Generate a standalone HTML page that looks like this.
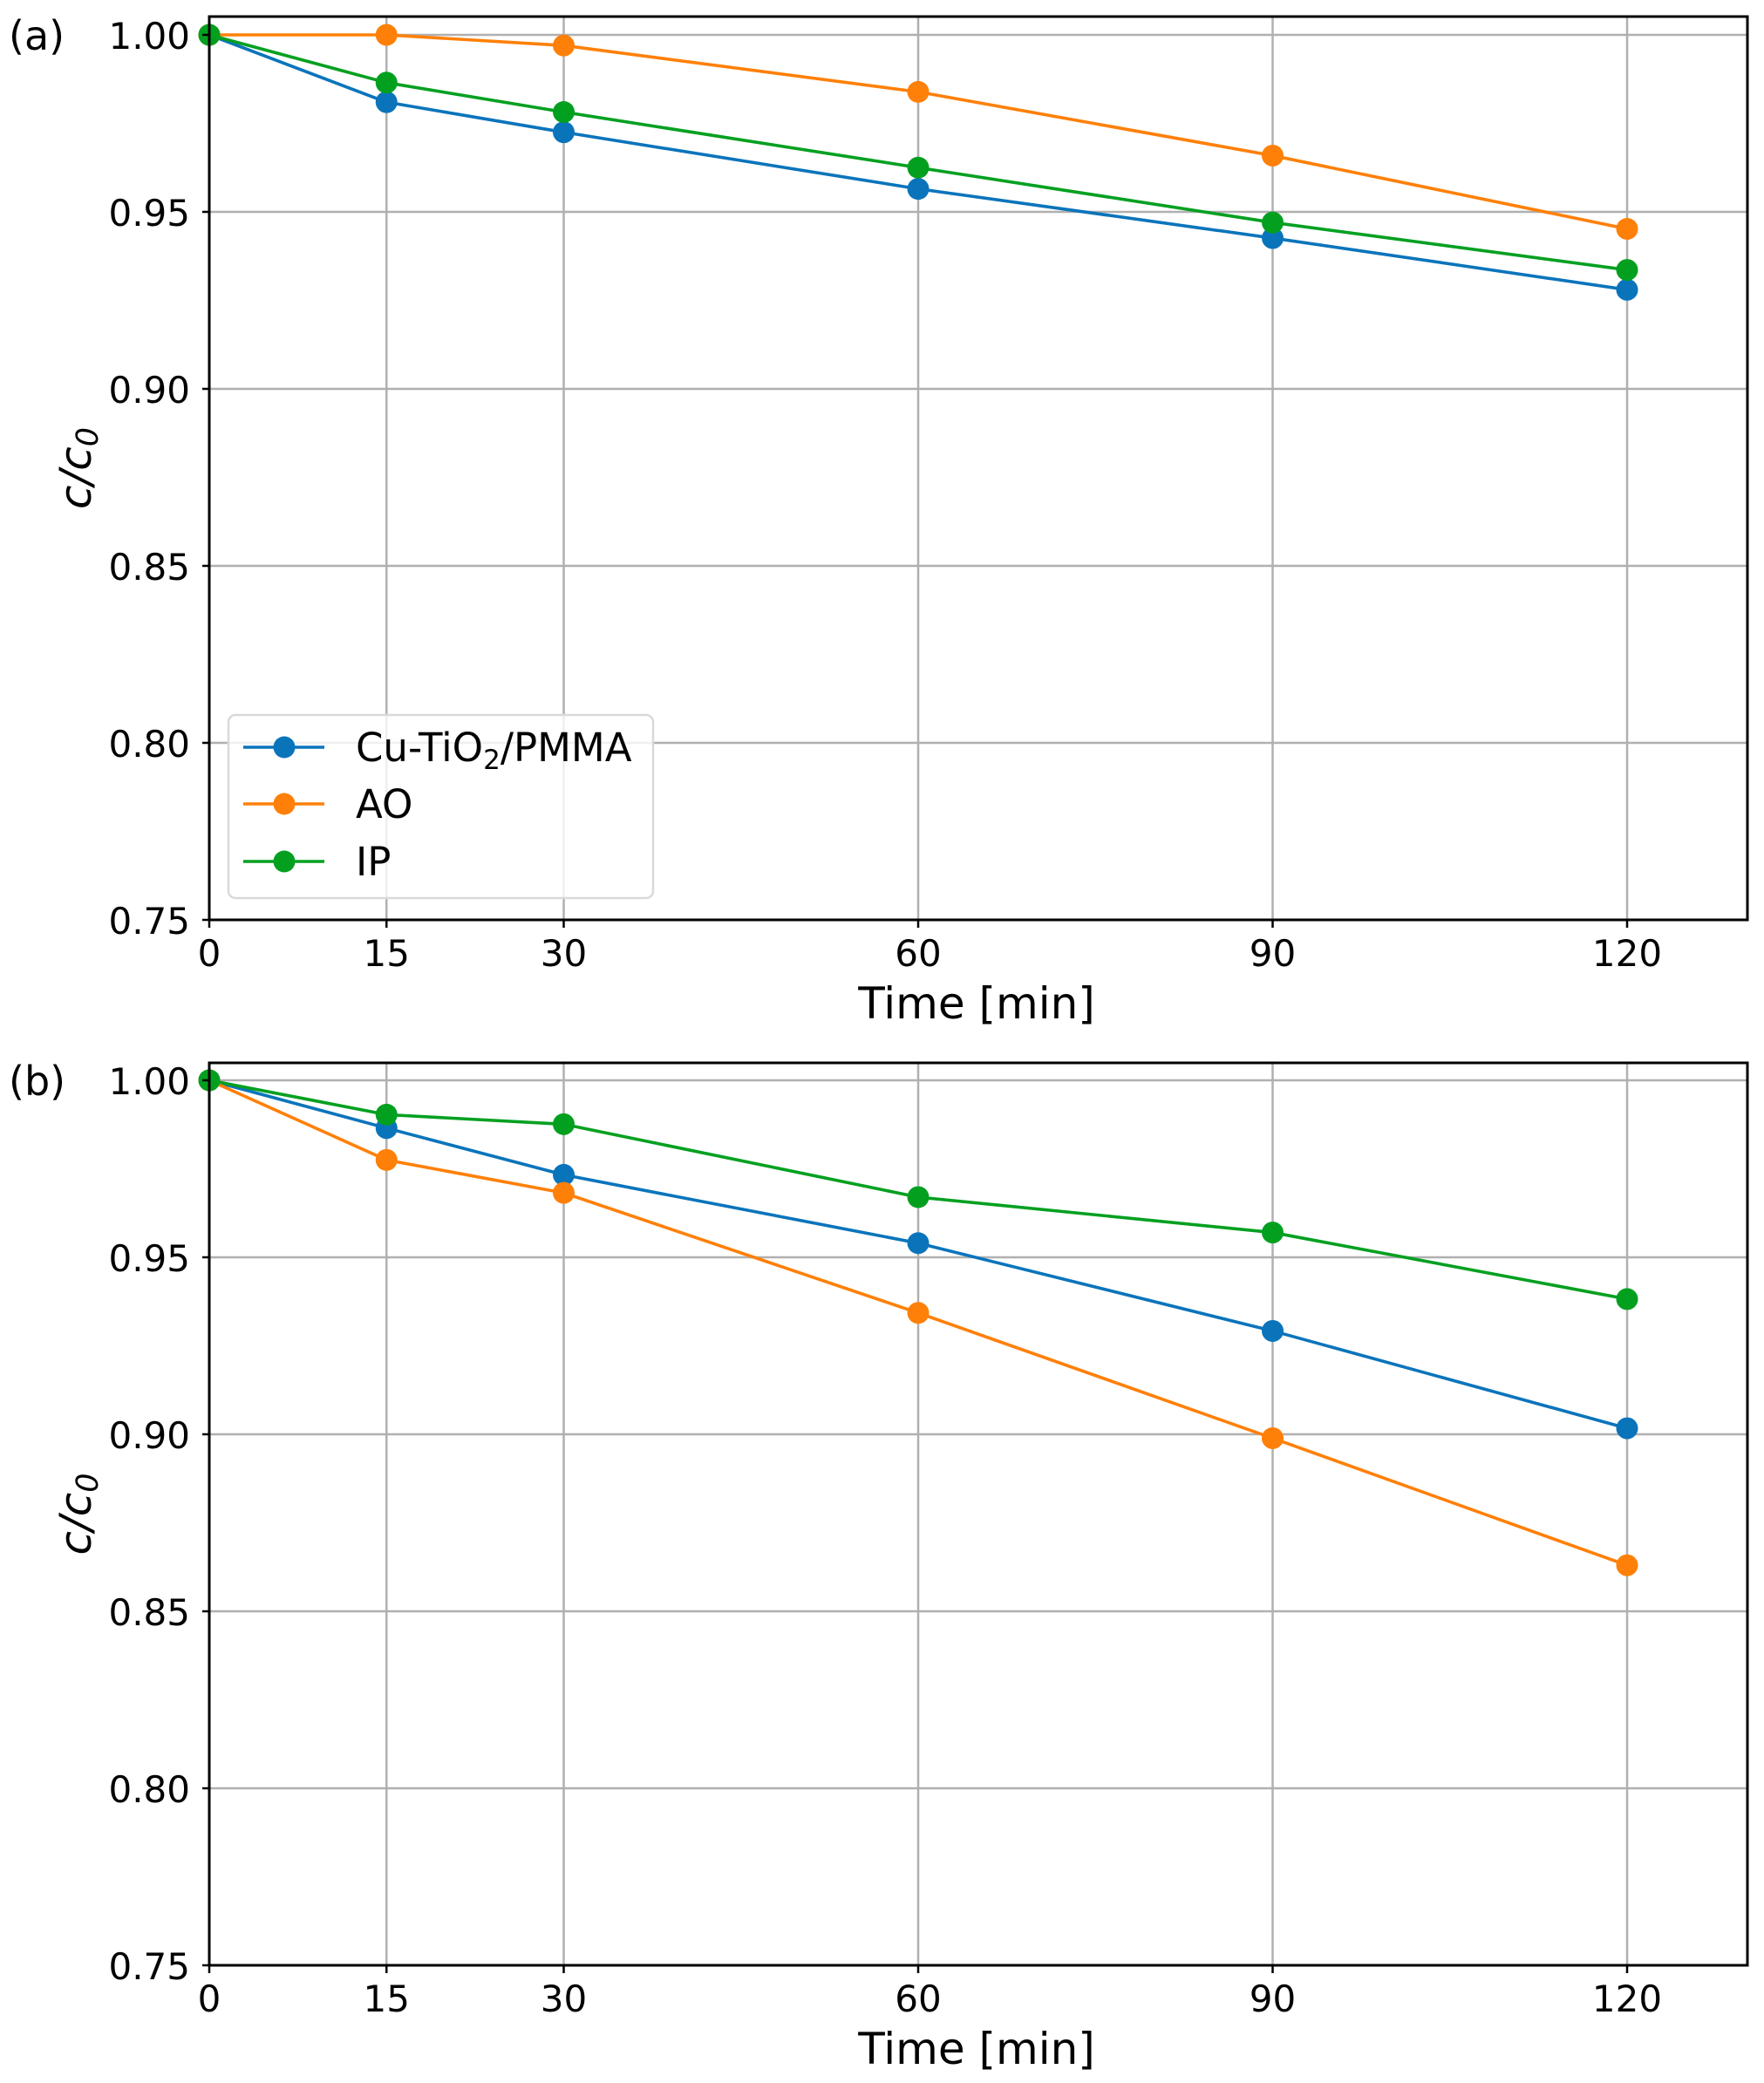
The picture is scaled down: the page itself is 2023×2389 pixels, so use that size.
<!DOCTYPE html>
<html><head><meta charset="utf-8"><style>
html,body{margin:0;padding:0;background:#fff;}
svg{display:block;}
text{font-family:"DejaVu Sans","Liberation Sans",sans-serif;fill:#000;}
</style></head><body>
<svg id="s" width="2023" height="2389" viewBox="0 0 2023 2389" xmlns="http://www.w3.org/2000/svg"></svg>
<script>
const S=document.getElementById('s');
let h='';
const X0=240,XR=2004,PX=13.55;
const x=t=>X0+t*PX;
const cols=['#0a74bb','#ff8008','#03a020'];
const T=[0,15,30,60,90,120];
const data=[
 [[1,0.981,0.9725,0.9565,0.9426,0.928],[1,1,0.997,0.9839,0.9659,0.9452],[1,0.9865,0.9782,0.9625,0.947,0.9336]],
 [[1,0.9865,0.9733,0.954,0.9292,0.9017],[1,0.9775,0.9682,0.9343,0.8989,0.863],[1,0.9903,0.9876,0.967,0.957,0.9382]]
];
const panels=[{top:19,y1:40,lab:'(a)'},{top:1219,y1:1239,lab:'(b)'}];
panels.forEach((p,pi)=>{
 const y=v=>p.y1+(1-v)/0.05*203;
 const bot=y(0.75);
 [0.75,0.8,0.85,0.9,0.95,1.0].forEach(v=>{h+=`<line x1="${X0}" x2="${XR}" y1="${y(v)}" y2="${y(v)}" stroke="#b0b0b0" stroke-width="2.5"/>`;});
 T.forEach(t=>{h+=`<line x1="${x(t)}" x2="${x(t)}" y1="${p.top}" y2="${bot}" stroke="#b0b0b0" stroke-width="2.5"/>`;});
 data[pi].forEach((d,i)=>{
  const pts=T.map((t,k)=>x(t)+','+y(d[k])).join(' ');
  h+=`<polyline points="${pts}" fill="none" stroke="${cols[i]}" stroke-width="3.6" stroke-linejoin="round"/>`;
  T.forEach((t,k)=>{h+=`<circle cx="${x(t)}" cy="${y(d[k])}" r="12.5" fill="${cols[i]}"/>`;});
 });
 h+=`<rect x="${X0}" y="${p.top}" width="${XR-X0}" height="${bot-p.top}" fill="none" stroke="#000" stroke-width="3"/>`;
 [0.75,0.8,0.85,0.9,0.95,1.0].forEach(v=>{
  h+=`<line x1="${X0-8}" x2="${X0}" y1="${y(v)}" y2="${y(v)}" stroke="#000" stroke-width="2.5"/>`;
  h+=`<text x="218" y="${y(v)+16}" font-size="42" text-anchor="end">${v.toFixed(2)}</text>`;
 });
 T.forEach(t=>{
  h+=`<line x1="${x(t)}" x2="${x(t)}" y1="${bot}" y2="${bot+9}" stroke="#000" stroke-width="2.5"/>`;
  h+=`<text x="${x(t)}" y="${bot+53}" font-size="42" text-anchor="middle">${t}</text>`;
 });
 h+=`<text x="1120" y="${bot+113}" font-size="50" text-anchor="middle">Time [min]</text>`;
 const cy=(p.top+bot)/2;
 h+=`<text transform="translate(104,${cy}) rotate(-90)" font-size="50" text-anchor="middle" font-style="italic">c/c<tspan font-size="35" dy="8">0</tspan></text>`;
 h+=`<text x="10" y="${p.y1+17}" font-size="46">${p.lab}</text>`;
});
h+=`<rect x="262" y="820" width="487" height="210" rx="8" fill="#fff" fill-opacity="0.8" stroke="#d9d9d9" stroke-width="2.5"/>`;
const L=['Cu-TiO<tspan font-size="31" dy="9">2</tspan><tspan dy="-9">/PMMA</tspan>','AO','IP'];
[857,922,988].forEach((yy,i)=>{
 h+=`<line x1="279" x2="372" y1="${yy}" y2="${yy}" stroke="${cols[i]}" stroke-width="3.6"/>`;
 h+=`<circle cx="326" cy="${yy}" r="12.5" fill="${cols[i]}"/>`;
 h+=`<text x="408" y="${yy+16}" font-size="45">${L[i]}</text>`;
});
S.innerHTML=h;
</script>
</body></html>
